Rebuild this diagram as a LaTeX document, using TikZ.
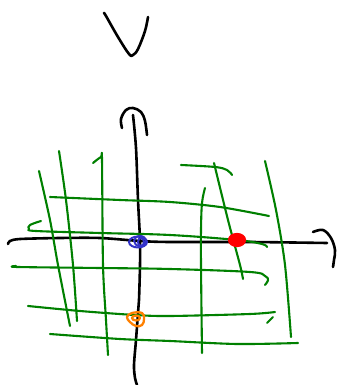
\documentclass[tikz,border=0pt]{standalone}
\begin{document}
\begin{tikzpicture}[x=1pt,y=-1pt,line cap=round,line join=round,
  ink/.style={draw=black,line width=2.6pt},
  grn/.style={draw={rgb,255:red,0;green,128;blue,0},line width=2.1pt},
  blu/.style={draw={rgb,255:red,50;green,50;blue,200},line width=2pt},
  rd/.style={draw=red,line width=2.2pt},
  org/.style={draw={rgb,255:red,255;green,128;blue,0},line width=2.3pt}]
\useasboundingbox (0,0) rectangle (339,385);
% V
\draw[ink] plot[smooth,tension=0.6] coordinates {(104,13) (106,16) (118,37) (129,54) (133,55) (138,49) (145,31) (148,17)};
% vertical axis
\draw[ink] plot[smooth,tension=0.6] coordinates {(122,128) (121,119) (126,110) (133,108) (141,112) (145,121) (147,135)};
\draw[ink] plot[smooth] coordinates {(133,115) (136,148) (138,200) (140,240) (140,265) (139,300) (138,313) (136,340) (134,365) (135,378) (137,385)};
% horizontal axis
\draw[ink] plot[smooth] coordinates {(8,244) (10,241) (20,239) (60,238) (100,238) (140,241) (170,242) (250,242) (327,243)};
\draw[ink] plot[smooth,tension=0.6] coordinates {(313,232) (323,230) (331,238) (335,250) (334,260) (333,267)};
% green verticals
\draw[grn] plot[smooth] coordinates {(39,171) (50,220) (58,265) (70,326)};
\draw[grn] plot[smooth] coordinates {(59,151) (66,200) (73,265) (77,321)};
\draw[grn] plot[smooth,tension=0.5] coordinates {(93,163) (101,157) (102,160) (103,265) (106,320) (108,355)};
\draw[grn] plot[smooth] coordinates {(214,163) (228,220) (240,265) (243,279)};
\draw[grn] plot[smooth,tension=0.6] coordinates {(205,188) (202,203) (201,230) (201,265) (202,353)};
\draw[grn] plot[smooth] coordinates {(265,161) (276,210) (285,265) (291,337)};
% green horizontals
\draw[grn] plot[smooth,tension=0.6] coordinates {(181,165) (215,167) (227,170) (232,175)};
\draw[grn] plot[smooth] coordinates {(50,197) (120,200) (170,202) (220,207) (269,216)};
\draw[grn] plot[smooth,tension=0.6] coordinates {(41,221) (30,225) (29,229) (36,231) (100,233) (170,235) (237,240) (262,244) (267,247)};
\draw[grn] plot[smooth,tension=0.6] coordinates {(16,266) (18,267) (100,268) (170,269) (250,272) (265,276) (268,280) (265,285)};
\draw[grn] plot[smooth] coordinates {(28,306) (80,311) (135,315) (170,316) (250,314) (275,312)};
\draw[grn] (267,323) -- (273,317);
\draw[grn] plot[smooth] coordinates {(50,334) (120,339) (170,341) (237,344) (298,343)};
% blue scribble
\draw[blu] (138,242) ellipse [x radius=9,y radius=5.5];
\draw[blu] (140,241) ellipse [x radius=6,y radius=5];
\draw[blu] (141,242) ellipse [x radius=3,y radius=4];
% red blob
\fill[red] (237,240) ellipse [x radius=8.5,y radius=6.5];
\draw[rd] (237,240) ellipse [x radius=8,y radius=6];
% orange scribble
\draw[org] plot[smooth cycle,tension=0.7] coordinates {(127,317) (132,313) (142,313) (144,319) (142,325) (136,326) (130,322)};
\draw[org] (136,318) ellipse [x radius=4,y radius=2.5];
\end{tikzpicture}
\end{document}
